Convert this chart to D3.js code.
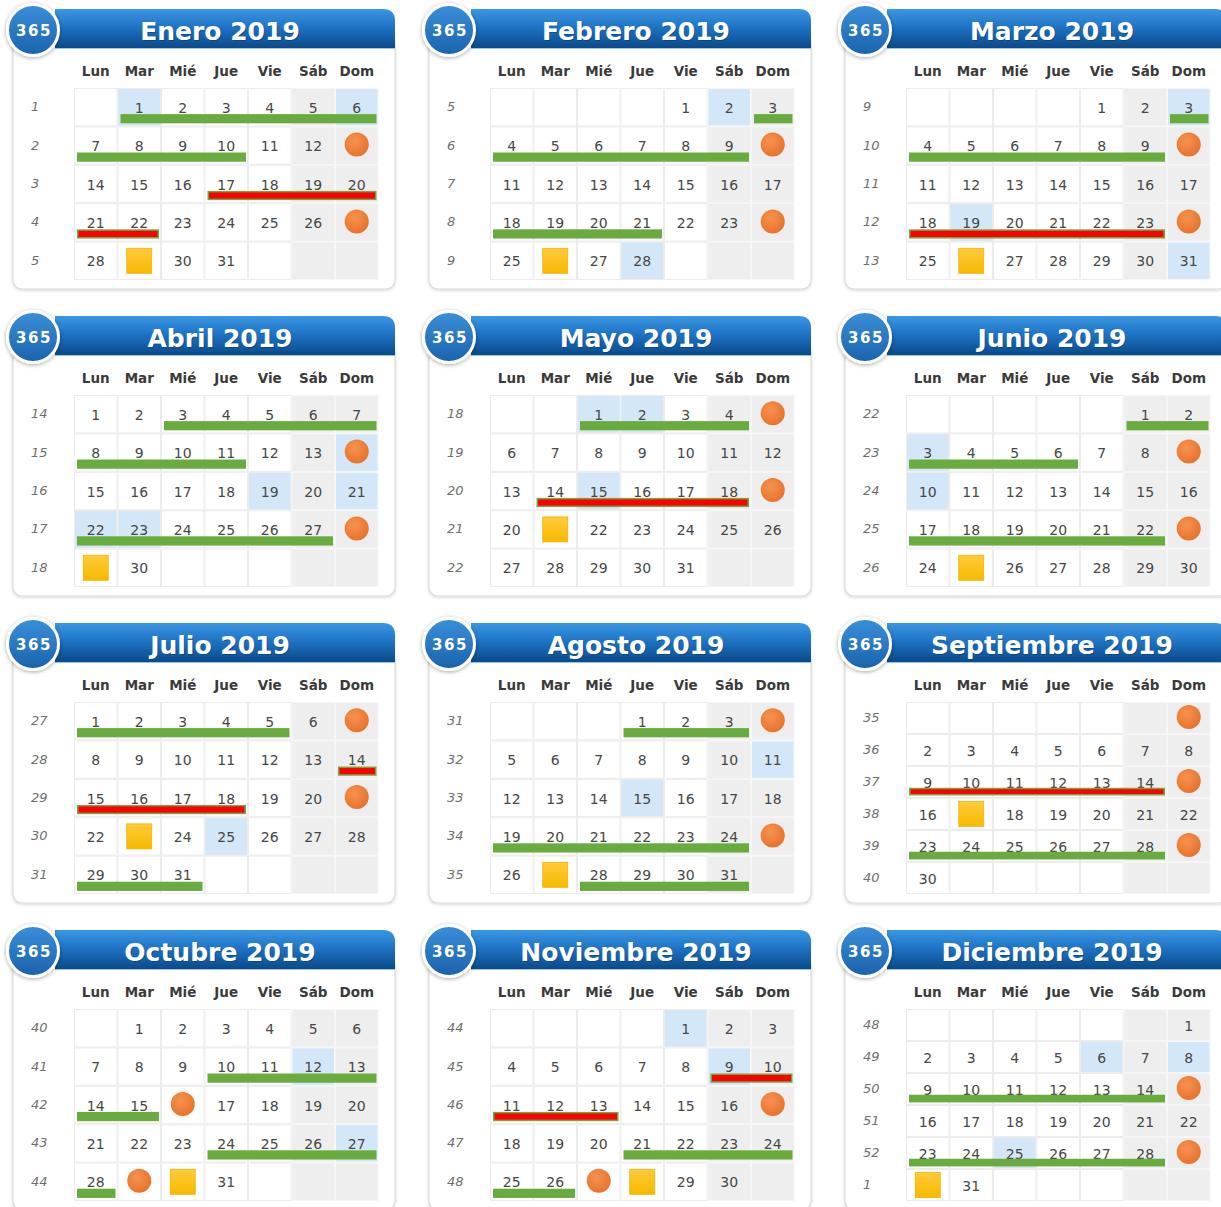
<!DOCTYPE html>
<html><head><meta charset="utf-8">
<script src="https://cdn.jsdelivr.net/npm/d3@7"></script>
<style>body{margin:0;background:#fff} svg{display:block}</style>
</head><body>
<script>
const year = 2019;
const monthNames = ["Enero","Febrero","Marzo","Abril","Mayo","Junio","Julio","Agosto","Septiembre","Octubre","Noviembre","Diciembre"];
const dayLabels = ["Lun","Mar","Mié","Jue","Vie","Sáb","Dom"];
const weekNumbers = [
  [1,2,3,4,5],[5,6,7,8,9],[9,10,11,12,13],
  [14,15,16,17,18],[18,19,20,21,22],[22,23,24,25,26],
  [27,28,29,30,31],[31,32,33,34,35],[35,36,37,38,39,40],
  [40,41,42,43,44],[44,45,46,47,48],[48,49,50,51,52,1]];
const holidays = [[1,6],[2,28],[3,19,31],[14,19,21,22,23],[1,2,15],[3,10],[25],[11,15],[],[12,27],[1,9],[6,8,25]];
const circleDays = [[13,27],[10,24],[10,24],[14,28],[5,19],[9,23],[7,21],[4,25],[1,15,29],[16,29],[17,27],[15,29]];
const squareDays = [29,26,26,29,21,25,23,27,17,30,28,30];
const greenBars = [
  [[1,6],[7,10]], [[3,3],[4,9],[18,21]], [[3,3],[4,9]],
  [[3,7],[8,11],[22,27]], [[1,4]], [[1,2],[3,6],[17,22]],
  [[1,5],[29,31]], [[1,3],[19,24],[28,31]], [[23,28]],
  [[10,13],[14,15],[24,27],[28,28]], [[21,24],[25,26]], [[9,14],[23,28]]];
const redBars = [
  [[17,20],[21,22]], [], [[18,23]],
  [], [[14,18]], [],
  [[14,14],[15,18]], [], [[9,14]],
  [], [[9,10],[11,13]], []];

const W = 1221, H = 1207;
const svg = d3.select("body").append("svg").attr("width", W).attr("height", H);
const defs = svg.append("defs");

const hg = defs.append("linearGradient").attr("id","hdr").attr("x1",0).attr("y1",0).attr("x2",0).attr("y2",1);
hg.append("stop").attr("offset","0%").attr("stop-color","#3a97e2");
hg.append("stop").attr("offset","45%").attr("stop-color","#1f74c6");
hg.append("stop").attr("offset","100%").attr("stop-color","#0a4a8a");
const cg = defs.append("linearGradient").attr("id","circ").attr("x1",0).attr("y1",0).attr("x2",0).attr("y2",1);
cg.append("stop").attr("offset","0%").attr("stop-color","#3b8fd9");
cg.append("stop").attr("offset","100%").attr("stop-color","#1a62ad");
const og = defs.append("radialGradient").attr("id","org").attr("cx","40%").attr("cy","35%").attr("r","70%");
og.append("stop").attr("offset","0%").attr("stop-color","#f5934f");
og.append("stop").attr("offset","100%").attr("stop-color","#e8702a");
const yg = defs.append("linearGradient").attr("id","yel").attr("x1",0).attr("y1",0).attr("x2",0).attr("y2",1);
yg.append("stop").attr("offset","0%").attr("stop-color","#ffcb3a");
yg.append("stop").attr("offset","100%").attr("stop-color","#f7b900");
const sh = defs.append("filter").attr("id","shadow").attr("x","-10%").attr("y","-10%").attr("width","120%").attr("height","130%");
sh.append("feDropShadow").attr("dx",0).attr("dy",1).attr("stdDeviation",1.5).attr("flood-color","#000").attr("flood-opacity",0.18);
const sh2 = defs.append("filter").attr("id","cshadow").attr("x","-30%").attr("y","-30%").attr("width","160%").attr("height","160%");
sh2.append("feDropShadow").attr("dx",0).attr("dy",1).attr("stdDeviation",2).attr("flood-color","#000").attr("flood-opacity",0.35);

const FONT = "'DejaVu Sans', Verdana, sans-serif";

const x = d3.scaleBand().domain(dayLabels).range([74, 378.5]).padding(0);

monthNames.forEach((name, m) => {
  const ox = 416 * (m % 3), oy = 307 * Math.floor(m / 3);
  const g = svg.append("g").attr("transform", `translate(${ox},${oy})`);
  const weeks = weekNumbers[m];
  const y = d3.scaleBand().domain(d3.range(weeks.length)).range([88, 280]).padding(0);
  const first = (new Date(year, m, 1).getDay() + 6) % 7;
  const nDays = new Date(year, m + 1, 0).getDate();
  const pos = d => { const i = first + d - 1; return {r: Math.floor(i / 7), c: i % 7}; };

  // panel box
  g.append("rect").attr("x", 13).attr("y", 36).attr("width", 382).attr("height", 253)
    .attr("rx", 9).attr("fill", "#fff").attr("stroke", "#dcdcdc").attr("stroke-width", 1.2)
    .attr("filter", "url(#shadow)");

  // header bar
  const x0 = 55, x1 = 395, y0 = 9, y1 = 48, rr = 12;
  g.append("path").attr("d", `M${x0},${y1}L${x0},${y0}L${x1-rr},${y0}Q${x1},${y0} ${x1},${y0+rr}L${x1},${y1}Z`)
    .attr("fill", "url(#hdr)");
  g.append("line").attr("x1", x0).attr("x2", x1).attr("y1", y1 + 0.5).attr("y2", y1 + 0.5)
    .attr("stroke", "#9cc3e8").attr("stroke-width", 1);

  // title
  g.append("text").attr("x", 220).attr("y", 39.5).attr("text-anchor", "middle")
    .attr("font-family", FONT).attr("font-weight", "bold").attr("font-size", 25)
    .attr("fill", "#08335e").attr("opacity", 0.45).attr("transform", "translate(1,1)")
    .text(`${name} ${year}`);
  g.append("text").attr("x", 220).attr("y", 39.5).attr("text-anchor", "middle")
    .attr("font-family", FONT).attr("font-weight", "bold").attr("font-size", 25)
    .attr("fill", "#ffffff").text(`${name} ${year}`);

  // 365 badge
  g.append("circle").attr("cx", 33).attr("cy", 30).attr("r", 25.5)
    .attr("fill", "url(#circ)").attr("stroke", "#ffffff").attr("stroke-width", 3)
    .attr("filter", "url(#cshadow)");
  g.append("text").attr("x", 34).attr("y", 36).attr("text-anchor", "middle")
    .attr("font-family", FONT).attr("font-weight", "bold").attr("font-size", 15)
    .attr("letter-spacing", 1.5).attr("fill", "#fff").text("365");

  // day labels
  g.selectAll(".dl").data(dayLabels).join("text")
    .attr("x", d => x(d) + x.bandwidth() / 2).attr("y", 76).attr("text-anchor", "middle")
    .attr("font-family", FONT).attr("font-weight", "bold").attr("font-size", 13.5)
    .attr("fill", "#3a3a3a").text(d => d);

  // week numbers
  g.selectAll(".wk").data(weeks).join("text")
    .attr("x", 31).attr("y", (d, i) => y(i) + y.bandwidth() / 2 + 4)
    .attr("font-family", FONT).attr("font-style", "italic").attr("font-size", 13)
    .attr("fill", "#6f6f6f").text(d => d);

  // cells
  const cells = [];
  weeks.forEach((w, r) => dayLabels.forEach((dl, c) => {
    const idx = r * 7 + c, d = idx - first + 1;
    cells.push({r, c, dl, d: (d >= 1 && d <= nDays) ? d : null});
  }));
  g.selectAll(".cell").data(cells).join("rect")
    .attr("x", d => x(d.dl) + 0.5).attr("y", d => y(d.r) + 0.5)
    .attr("width", x.bandwidth() - 1).attr("height", y.bandwidth() - 1)
    .attr("fill", d => (d.d && holidays[m].includes(d.d)) ? "#d4e7f9" : (d.c >= 5 ? "#eeeeee" : "#ffffff"))
    .attr("stroke", d => d.c >= 5 ? "#f6f6f6" : "#ececec").attr("stroke-width", 1);

  // numbers
  const skip = new Set([...circleDays[m], squareDays[m]]);
  g.selectAll(".num").data(cells.filter(d => d.d && !skip.has(d.d))).join("text")
    .attr("x", d => x(d.dl) + x.bandwidth() / 2).attr("y", d => y(d.r) + y.bandwidth() / 2 + 5.5)
    .attr("text-anchor", "middle").attr("font-family", FONT).attr("font-size", 14)
    .attr("fill", "#474747").text(d => d.d);

  // bars
  const barGeom = ([a, b]) => {
    const pa = pos(a), pb = pos(b);
    return {x: x(dayLabels[pa.c]) + 3, x2: x(dayLabels[pb.c]) + x.bandwidth() - 2,
            y: y(pa.r) + y.bandwidth() * 0.68, h: y.bandwidth() * 0.24};
  };
  g.selectAll(".gb").data(greenBars[m].map(barGeom)).join("rect")
    .attr("x", d => d.x).attr("y", d => d.y).attr("width", d => d.x2 - d.x).attr("height", d => d.h)
    .attr("fill", "#6aab3f");
  g.selectAll(".rb").data(redBars[m].map(barGeom)).join("rect")
    .attr("x", d => d.x + 0.75).attr("y", d => d.y + 0.75).attr("width", d => d.x2 - d.x - 1.5).attr("height", d => d.h - 1.5)
    .attr("fill", "#ff0000").attr("stroke", "#6aab3f").attr("stroke-width", 1.5);

  // circles
  g.selectAll(".oc").data(circleDays[m].map(pos)).join("circle")
    .attr("cx", d => x(dayLabels[d.c]) + x.bandwidth() / 2)
    .attr("cy", d => y(d.r) + y.bandwidth() / 2 - 1)
    .attr("r", 12).attr("fill", "url(#org)");

  // square
  const sp = pos(squareDays[m]);
  const ss = Math.min(25, y.bandwidth() - 7);
  g.append("rect")
    .attr("x", x(dayLabels[sp.c]) + x.bandwidth() / 2 - ss / 2)
    .attr("y", y(sp.r) + y.bandwidth() / 2 - ss / 2)
    .attr("width", ss).attr("height", ss)
    .attr("fill", "url(#yel)").attr("stroke", "#f2b200").attr("stroke-width", 0.8);
});
</script>
</body></html>
